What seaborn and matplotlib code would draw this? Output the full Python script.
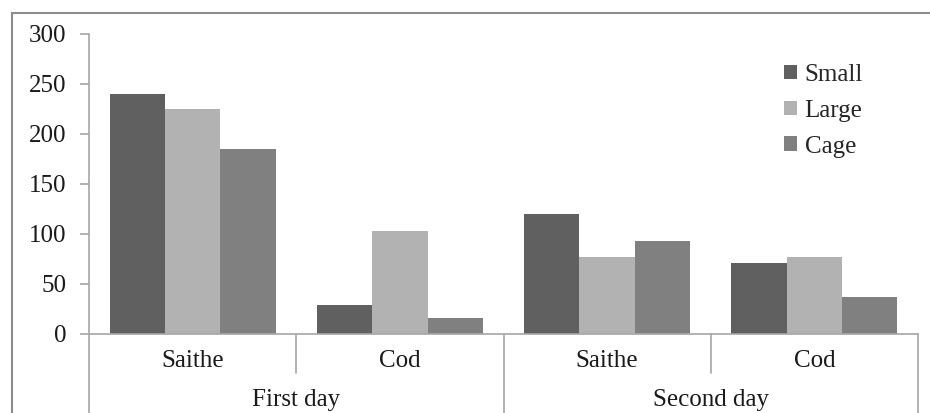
import matplotlib
matplotlib.use("Agg")
import matplotlib.pyplot as plt
import seaborn as sns
import pandas as pd
from matplotlib.patches import Patch
from matplotlib.lines import Line2D

days = ["First day", "First day", "Second day", "Second day"]
species = ["Saithe", "Cod", "Saithe", "Cod"]
series = ["Small", "Large", "Cage"]
small = [240, 29, 120, 71]
large = [225, 103, 77, 77]
cage = [185, 16, 93, 37]
colors = ["#606060", "#b2b2b2", "#808080"]
yticks = [0, 50, 100, 150, 200, 250, 300]

groups = [f"{d}|{s}" for d, s in zip(days, species)]
rows = []
for name, vals in zip(series, [small, large, cage]):
    for g, v in zip(groups, vals):
        rows.append({"group": g, "series": name, "value": v})
df = pd.DataFrame(rows)

sns.set_theme(style="white")
plt.rcParams["font.family"] = ["Liberation Serif", "DejaVu Serif"]

FS = 18
W, H = 930, 413
fig = plt.figure(figsize=(W / 100, H / 100), dpi=100)
ax = fig.add_axes([89 / W, 79 / H, (918 - 89) / W, 300 / H])

sns.barplot(data=df, x="group", y="value", hue="series", order=groups,
            hue_order=series, palette=colors, saturation=1, width=0.8,
            gap=0, linewidth=0, ax=ax, legend=False)

gray = "#a6a6a6"
ax.set_xlim(-0.5, 3.5)
ax.set_ylim(0, 300)
ax.set_yticks(yticks)
ax.set_yticklabels([str(t) for t in yticks], fontsize=FS, color="#1a1a1a")
ax.set_xticks([])
ax.set_xlabel("")
ax.set_ylabel("")
for s in ["top", "right"]:
    ax.spines[s].set_visible(False)
for s in ["left", "bottom"]:
    ax.spines[s].set_color(gray)
    ax.spines[s].set_linewidth(1.2)
ax.tick_params(axis="y", direction="out", length=6.5, width=1.2, color=gray, pad=10, left=True)

# hierarchical x labels
trans = ax.get_xaxis_transform()
for i, sp in enumerate(species):
    ax.text(i, -0.09, sp, transform=trans, ha="center", va="center", fontsize=FS, color="#1a1a1a")
for x in [0.5, 2.5]:
    ax.add_line(Line2D([x, x], [0, -0.13], transform=trans, color=gray, lw=1.2, clip_on=False))
for x in [-0.5, 1.5, 3.5]:
    ax.add_line(Line2D([x, x], [0, -0.27], transform=trans, color=gray, lw=1.2, clip_on=False))
for c, d in zip([0.5, 2.5], ["First day", "Second day"]):
    ax.text(c, -0.22, d, transform=trans, ha="center", va="center", fontsize=FS, color="#1a1a1a")

# legend
handles = [Patch(facecolor=c, edgecolor="none", label=n) for c, n in zip(colors, series)]
fig.legend(handles=handles, loc="upper left", bbox_to_anchor=(784 / W, 1 - 64 / H),
           frameon=False, fontsize=FS, handlelength=0.52, handleheight=0.52,
           handletextpad=0.3, labelspacing=0.55, borderpad=0, borderaxespad=0)

# outer frame
fig.add_artist(Line2D([12 / W, 12 / W], [0, 1 - 13 / H], transform=fig.transFigure, color="#8c8c8c", lw=1.5))
fig.add_artist(Line2D([12 / W, 1], [1 - 13 / H, 1 - 13 / H], transform=fig.transFigure, color="#8c8c8c", lw=1.5))

fig.savefig("out.png", dpi=100)
